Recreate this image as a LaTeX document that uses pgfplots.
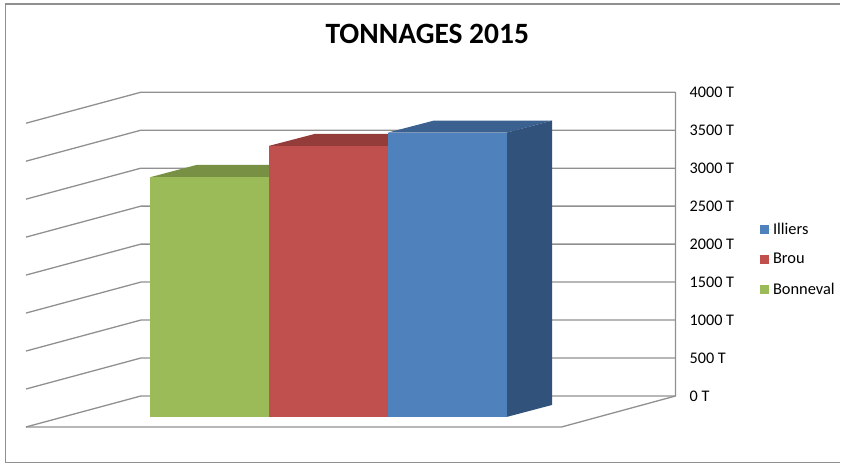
\documentclass[border=0pt]{standalone}
\usepackage{fontspec}
\setmainfont{Carlito}
\usepackage{pgfplots}
\pgfplotsset{compat=1.18}
\definecolor{gridc}{HTML}{909090}
\definecolor{frontG}{HTML}{9BBB59}
\definecolor{topG}{HTML}{789043}
\definecolor{frontR}{HTML}{C0504D}
\definecolor{topR}{HTML}{933C3A}
\definecolor{frontB}{HTML}{4F81BD}
\definecolor{topB}{HTML}{3B6190}
\definecolor{sideB}{HTML}{31527B}
\begin{document}
\begin{tikzpicture}
\begin{axis}[
  scale only axis, width=841pt, height=464pt,
  at={(0,0)},
  xmin=0, xmax=841, ymin=-890.8, ymax=5214.5,
  axis line style={draw=none}, tick style={draw=none},
  xtick=\empty,
  ytick={0,500,1000,1500,2000,2500,3000,3500,4000},
  yticklabel pos=right,
  yticklabel={\pgfmathprintnumber[1000 sep={},assume math mode=true]{\tick}~T},
  yticklabel style={anchor=west, xshift=-151pt, inner sep=0pt, font=\fontsize{16.2}{18}\selectfont},
  title={TONNAGES 2015},
  title style={at={(0.5085,0.927)}, anchor=center, yshift=-6pt, font=\fontsize{29.5}{32}\bfseries\selectfont, inner sep=0pt},
  clip=false,
  reverse legend,
  legend cell align=left,
  legend style={at={(0.9012,0.528)}, anchor=north west, draw=none, fill=none,
    font=\fontsize{16.4}{18}\selectfont, row sep=13.5pt, inner sep=2pt},
  legend image code/.code={\fill[#1] (0pt,-4.5pt) rectangle (9.5pt,4.5pt); \path (0pt,0pt) -- (11.5pt,0pt);},
]
% chart frame
\addplot[forget plot, gridc, line width=1.3pt] coordinates {(841,5162) (5.5,5162) (5.5,-878) (841,-878)};
% grid lines: level 0 ... 4000, wall and side
\addplot[forget plot, gridc, line width=1.3pt] coordinates {(26,-408) (141,0) (676,0)};
\addplot[forget plot, gridc, line width=1.3pt] coordinates {(26,92) (141,500) (676,500)};
\addplot[forget plot, gridc, line width=1.3pt] coordinates {(26,592) (141,1000) (676,1000)};
\addplot[forget plot, gridc, line width=1.3pt] coordinates {(26,1092) (141,1500) (676,1500)};
\addplot[forget plot, gridc, line width=1.3pt] coordinates {(26,1592) (141,2000) (676,2000)};
\addplot[forget plot, gridc, line width=1.3pt] coordinates {(26,2092) (141,2500) (676,2500)};
\addplot[forget plot, gridc, line width=1.3pt] coordinates {(26,2592) (141,3000) (676,3000)};
\addplot[forget plot, gridc, line width=1.3pt] coordinates {(26,3092) (141,3500) (676,3500)};
\addplot[forget plot, gridc, line width=1.3pt] coordinates {(26,3592) (141,4000) (676,4000)};
\addplot[forget plot, gridc, line width=1.3pt] coordinates {(676,4000) (676,0) (562,-408) (26,-408)};
% Bonneval
\addplot[forget plot, fill=topG, draw=none] coordinates {(150.5,2882) (196.5,3042) (315,3042) (269,2882)} --cycle;
\addplot[fill=frontG, draw=none] coordinates {(150.5,-276) (150.5,2882) (269,2882) (269,-276)} --cycle;
\addlegendentry{Bonneval}
% Brou
\addplot[forget plot, fill=topR, draw=none] coordinates {(269,3293) (315,3451) (434,3451) (388,3293)} --cycle;
\addplot[fill=frontR, draw=none] coordinates {(269,-276) (269,3293) (388,3293) (388,-276)} --cycle;
\addlegendentry{Brou}
% Illiers
\addplot[forget plot, fill=topB, draw=none] coordinates {(388,3468) (434,3626) (552.5,3626) (507,3468)} --cycle;
\addplot[forget plot, fill=sideB, draw=none] coordinates {(507,3468) (552.5,3626) (552.5,-118) (507,-276)} --cycle;
\addplot[fill=frontB, draw=none] coordinates {(388,-276) (388,3468) (507,3468) (507,-276)} --cycle;
\addlegendentry{Illiers}
\end{axis}
\end{tikzpicture}
\end{document}
